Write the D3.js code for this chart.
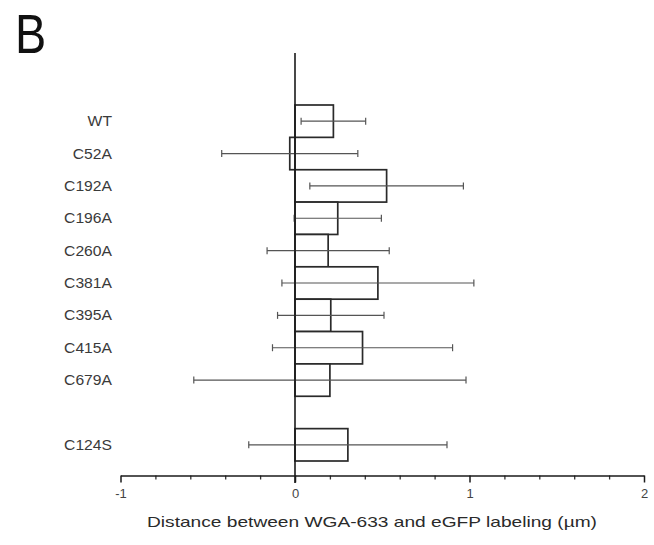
<!DOCTYPE html>
<html>
<head>
<meta charset="utf-8">
<script src="https://cdn.jsdelivr.net/npm/d3@7"></script>
<style>
  html, body { margin: 0; padding: 0; background: #fff; }
  svg { display: block; }
  text { font-family: "Liberation Sans", Arial, sans-serif; }
</style>
</head>
<body>
<svg id="chart" width="654" height="545"></svg>
<script>
const categories = ["WT", "C52A", "C192A", "C196A", "C260A", "C381A", "C395A", "C415A", "C679A", "C124S"];
const means = [0.22, -0.03, 0.525, 0.245, 0.19, 0.475, 0.205, 0.387, 0.2, 0.303];
const sds   = [0.185, 0.39, 0.44, 0.25, 0.35, 0.55, 0.305, 0.516, 0.78, 0.568];
const majorTicks = [-1, 0, 1, 2];
const minorTicks = [-0.8, -0.6, -0.4, -0.2, 0.2, 0.4, 0.6, 0.8, 1.2, 1.4, 1.6, 1.8];
const axisTitle = "Distance between WGA-633 and eGFP labeling (\u00b5m)";
const panelLabel = "B";

const svg = d3.select("#chart");

// band domain with a spacer slot before the last category
const domain = categories.slice(0, 9).concat(["__gap__"], categories.slice(9));
const y = d3.scaleBand().domain(domain).range([105, 461]).paddingInner(0).paddingOuter(0);
const x = d3.scaleLinear().domain([-1, 2]).range([120.5, 644]);

const data = categories.map((c, i) => ({ cat: c, mean: means[i], sd: sds[i] }));

// panel label
svg.append("text")
  .attr("x", 15).attr("y", 53)
  .attr("font-size", 55)
  .attr("fill", "#111")
  .attr("transform", "translate(15,0) scale(0.85,1) translate(-15,0)")
  .text(panelLabel);

// bars
svg.append("g").selectAll("rect").data(data).join("rect")
  .attr("x", d => x(Math.min(0, d.mean)))
  .attr("y", d => y(d.cat))
  .attr("width", d => Math.abs(x(d.mean) - x(0)))
  .attr("height", y.bandwidth())
  .attr("fill", "#fff")
  .attr("stroke", "#2a2a2a")
  .attr("stroke-width", 1.7);

// error bars
const eb = svg.append("g").attr("stroke", "#555").attr("stroke-width", 1.2);
data.forEach(d => {
  const cy = y(d.cat) + y.bandwidth() / 2;
  const x1 = x(d.mean - d.sd), x2 = x(d.mean + d.sd);
  eb.append("line").attr("x1", x1).attr("x2", x2).attr("y1", cy).attr("y2", cy);
  eb.append("line").attr("x1", x1).attr("x2", x1).attr("y1", cy - 3.5).attr("y2", cy + 3.5);
  eb.append("line").attr("x1", x2).attr("x2", x2).attr("y1", cy - 3.5).attr("y2", cy + 3.5);
});

// category labels
svg.append("g").selectAll("text").data(data).join("text")
  .attr("x", 112)
  .attr("y", d => y(d.cat) + y.bandwidth() / 2)
  .attr("dy", "0.36em")
  .attr("text-anchor", "end")
  .attr("font-size", 14)
  .attr("fill", "#3a3a3a")
  .attr("transform", "translate(112,0) scale(1.12,1) translate(-112,0)")
  .text(d => d.cat);

// vertical zero axis
svg.append("line")
  .attr("x1", x(0)).attr("x2", x(0))
  .attr("y1", 53).attr("y2", 483)
  .attr("stroke", "#1a1a1a").attr("stroke-width", 1.6);

// x axis
const axisY = 475.5;
const gMinor = svg.append("g").attr("transform", `translate(0,${axisY})`)
  .call(d3.axisBottom(x).tickValues(minorTicks).tickSize(4).tickFormat(""));
gMinor.select(".domain").remove();
gMinor.selectAll("line").attr("stroke", "#333").attr("stroke-width", 1.3);

const gMajor = svg.append("g").attr("transform", `translate(0,${axisY})`)
  .call(d3.axisBottom(x).tickValues(majorTicks).tickSize(7).tickSizeOuter(0).tickPadding(6).tickFormat(d => String(d)));
gMajor.select(".domain").attr("stroke", "#1a1a1a").attr("stroke-width", 1.6);
gMajor.selectAll(".tick line").attr("stroke", "#1a1a1a").attr("stroke-width", 1.5);
gMajor.selectAll(".tick text")
  .attr("font-size", 13)
  .attr("fill", "#444")
  .attr("font-family", "\"Liberation Sans\", Arial, sans-serif");

// axis title
svg.append("text")
  .attr("x", 147).attr("y", 527)
  .attr("font-size", 15)
  .attr("fill", "#2a2a2a")
  .attr("textLength", 450)
  .attr("lengthAdjust", "spacingAndGlyphs")
  .text(axisTitle);
</script>
</body>
</html>
